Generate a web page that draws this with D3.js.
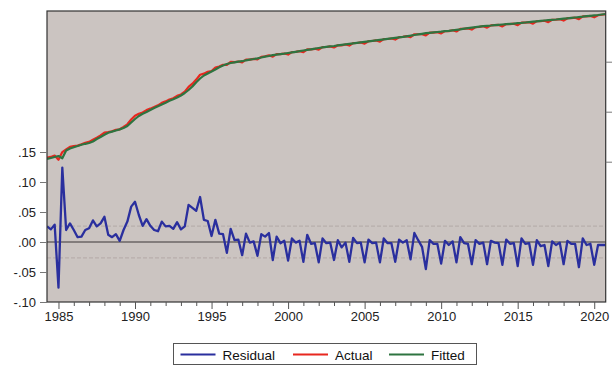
<!DOCTYPE html>
<html>
<head>
<meta charset="utf-8">
<script src="https://cdn.jsdelivr.net/npm/d3@7"></script>
<style>
  html, body { margin: 0; padding: 0; background: #ffffff; }
  svg { display: block; font-family: "Liberation Sans", Arial, sans-serif; }
</style>
</head>
<body>
<svg id="chart" width="612" height="367"></svg>
<script>
// ---- data (quarterly, 1984Q2 .. 2020Q4) ----
const startYear = 1984;
const startQuarter = 2;

const residual = [
  0.026, 0.021, 0.029, -0.076, 0.124, 0.020, 0.031, 0.020, 0.008, 0.009,
  0.020, 0.023, 0.036, 0.026, 0.031, 0.042, 0.012, 0.008, 0.013, 0.002,
  0.020, 0.034, 0.059, 0.067, 0.045, 0.027, 0.038, 0.027, 0.020, 0.018,
  0.034, 0.026, 0.027, 0.022, 0.033, 0.021, 0.026, 0.062, 0.057, 0.052,
  0.075, 0.037, 0.035, 0.010, 0.037, 0.014, 0.013, -0.018, 0.022, 0.003,
  0.004, -0.022, 0.014, -0.001, 0.001, -0.023, 0.013, 0.009, 0.015, -0.030,
  0.009, -0.002, 0.002, -0.031, 0.006, -0.001, 0.002, -0.033, 0.012, -0.003,
  -0.002, -0.034, 0.006, -0.002, -0.001, -0.030, 0.003, -0.009, -0.001, -0.033,
  0.007, -0.002, -0.001, -0.034, 0.004, -0.002, -0.001, -0.034, 0.006, -0.002,
  -0.002, -0.033, 0.004, -0.001, 0.003, -0.029, 0.015, 0.003, -0.008, -0.045,
  0.003, -0.003, -0.003, -0.036, 0.002, -0.005, 0.001, -0.034, 0.008, -0.002,
  -0.003, -0.037, 0.003, -0.003, -0.001, -0.037, 0.002, -0.001, -0.002, -0.038,
  0.004, -0.003, -0.002, -0.040, 0.006, -0.003, -0.002, -0.038, 0.003, -0.007,
  -0.005, -0.040, 0.001, -0.005, -0.001, -0.037, 0.002, -0.003, -0.003, -0.042,
  0.006, -0.005, -0.003, -0.038, -0.005, -0.005, -0.005
];

const actual = [
  10.080, 10.095, 10.123, 10.038, 10.192, 10.244, 10.295, 10.310, 10.322, 10.347,
  10.378, 10.397, 10.440, 10.480, 10.525, 10.580, 10.592, 10.610, 10.637, 10.648,
  10.694, 10.748, 10.843, 10.921, 10.959, 10.985, 11.032, 11.061, 11.094, 11.128,
  11.178, 11.206, 11.245, 11.270, 11.317, 11.345, 11.400, 11.496, 11.561, 11.642,
  11.739, 11.761, 11.799, 11.814, 11.881, 11.902, 11.937, 11.936, 11.996, 11.991,
  12.004, 11.988, 12.042, 12.041, 12.055, 12.045, 12.097, 12.109, 12.129, 12.102,
  12.151, 12.150, 12.164, 12.143, 12.192, 12.197, 12.212, 12.191, 12.248, 12.245,
  12.258, 12.240, 12.292, 12.294, 12.305, 12.284, 12.329, 12.327, 12.345, 12.323,
  12.373, 12.374, 12.385, 12.362, 12.410, 12.414, 12.425, 12.402, 12.452, 12.454,
  12.464, 12.443, 12.490, 12.495, 12.511, 12.491, 12.549, 12.549, 12.550, 12.525,
  12.581, 12.583, 12.591, 12.566, 12.614, 12.613, 12.629, 12.604, 12.656, 12.658,
  12.667, 12.643, 12.693, 12.697, 12.709, 12.681, 12.726, 12.731, 12.736, 12.706,
  12.754, 12.753, 12.760, 12.730, 12.782, 12.781, 12.790, 12.762, 12.811, 12.809,
  12.819, 12.792, 12.839, 12.839, 12.851, 12.823, 12.870, 12.873, 12.881, 12.850,
  12.906, 12.905, 12.915, 12.888, 12.929, 12.939, 12.949
];

const fitted = [
  10.054, 10.074, 10.094, 10.114, 10.068, 10.224, 10.264, 10.290, 10.314, 10.338,
  10.358, 10.374, 10.404, 10.454, 10.494, 10.538, 10.580, 10.602, 10.624, 10.646,
  10.674, 10.714, 10.784, 10.854, 10.914, 10.958, 10.994, 11.034, 11.074, 11.110,
  11.144, 11.180, 11.218, 11.248, 11.284, 11.324, 11.374, 11.434, 11.504, 11.590,
  11.664, 11.724, 11.764, 11.804, 11.844, 11.888, 11.924, 11.954, 11.974, 11.988,
  12.000, 12.010, 12.028, 12.042, 12.054, 12.068, 12.084, 12.100, 12.114, 12.132,
  12.142, 12.152, 12.162, 12.174, 12.186, 12.198, 12.210, 12.224, 12.236, 12.248,
  12.260, 12.274, 12.286, 12.296, 12.306, 12.314, 12.326, 12.336, 12.346, 12.356,
  12.366, 12.376, 12.386, 12.396, 12.406, 12.416, 12.426, 12.436, 12.446, 12.456,
  12.466, 12.476, 12.486, 12.496, 12.508, 12.520, 12.534, 12.546, 12.558, 12.570,
  12.578, 12.586, 12.594, 12.602, 12.612, 12.618, 12.628, 12.638, 12.648, 12.660,
  12.670, 12.680, 12.690, 12.700, 12.710, 12.718, 12.724, 12.732, 12.738, 12.744,
  12.750, 12.756, 12.762, 12.770, 12.776, 12.784, 12.792, 12.800, 12.808, 12.816,
  12.824, 12.832, 12.838, 12.844, 12.852, 12.860, 12.868, 12.876, 12.884, 12.892,
  12.900, 12.910, 12.918, 12.926, 12.934, 12.944, 12.954
];

const residualSD = 0.0265;
const leftTicks = [-0.10, -0.05, 0.00, 0.05, 0.10, 0.15];
const leftTickLabels = ["-.10", "-.05", ".00", ".05", ".10", ".15"];
const rightTicks = [10, 11, 12];
const yearLabels = [1985, 1990, 1995, 2000, 2005, 2010, 2015, 2020];
const seriesNames = ["Residual", "Actual", "Fitted"];
const seriesColors = ["#2a2f9e", "#e8271f", "#2e7440"];

// ---- layout ----
const svg = d3.select("#chart");
const plot = { left: 47, right: 605.7, top: 11, bottom: 302 };

const dates = residual.map((_, i) => startYear + (startQuarter - 1) / 4 + i / 4);

const x = d3.scaleLinear()
  .domain([dates[0], dates[dates.length - 1]])
  .range([plot.left, plot.right]);
const yLeft = d3.scaleLinear()
  .domain([-0.10, -0.10 + (plot.bottom - plot.top) / 600])
  .range([plot.bottom, plot.top]);
const yRight = d3.scaleLinear()
  .domain([10 - (plot.bottom - 161.7) / 50, 10 + (161.7 - plot.top) / 50])
  .range([plot.bottom, plot.top]);

// background
svg.append("rect")
  .attr("x", plot.left).attr("y", plot.top)
  .attr("width", plot.right - plot.left).attr("height", plot.bottom - plot.top)
  .attr("fill", "#cbc4c1");

svg.append("defs").append("clipPath").attr("id", "clip")
  .append("rect")
  .attr("x", plot.left).attr("y", plot.top)
  .attr("width", plot.right - plot.left).attr("height", plot.bottom - plot.top);

// SD reference lines
[residualSD, -residualSD].forEach(v => {
  svg.append("line")
    .attr("x1", plot.left).attr("x2", plot.right)
    .attr("y1", yLeft(v)).attr("y2", yLeft(v))
    .attr("stroke", "#b3a9a6").attr("stroke-width", 1)
    .attr("stroke-dasharray", "4,2");
});
// zero line
svg.append("line")
  .attr("x1", plot.left).attr("x2", plot.right)
  .attr("y1", yLeft(0)).attr("y2", yLeft(0))
  .attr("stroke", "#6b6665").attr("stroke-width", 1.4);

const g = svg.append("g").attr("clip-path", "url(#clip)");

const lineLeft = d3.line().x((d, i) => x(dates[i])).y(d => yLeft(d));
const lineRight = d3.line().x((d, i) => x(dates[i])).y(d => yRight(d));

g.append("path").datum(residual).attr("d", lineLeft)
  .attr("fill", "none").attr("stroke", seriesColors[0])
  .attr("stroke-width", 2.3).attr("stroke-linejoin", "round");
g.append("path").datum(actual).attr("d", lineRight)
  .attr("fill", "none").attr("stroke", seriesColors[1])
  .attr("stroke-width", 2.2).attr("stroke-linejoin", "round");
g.append("path").datum(fitted).attr("d", lineRight)
  .attr("fill", "none").attr("stroke", seriesColors[2])
  .attr("stroke-width", 2.2).attr("stroke-linejoin", "round");

// frame
svg.append("rect")
  .attr("x", plot.left).attr("y", plot.top)
  .attr("width", plot.right - plot.left).attr("height", plot.bottom - plot.top)
  .attr("fill", "none").attr("stroke", "#333").attr("stroke-width", 1.2);

// left axis
const leftAxis = d3.axisLeft(yLeft)
  .tickValues(leftTicks)
  .tickFormat((d, i) => leftTickLabels[i])
  .tickSize(7).tickPadding(4);
const la = svg.append("g").attr("transform", `translate(${plot.left},0)`).call(leftAxis);
la.select(".domain").remove();
la.selectAll(".tick line").attr("stroke", "#777");
la.selectAll(".tick text").attr("font-size", 13).attr("fill", "#222")
  .attr("font-family", "Liberation Sans, Arial, sans-serif");

// right axis (labels fall outside the picture)
const rightAxis = d3.axisRight(yRight).tickValues(rightTicks).tickSize(7).tickFormat("");
const ra = svg.append("g").attr("transform", `translate(${plot.right},0)`).call(rightAxis);
ra.select(".domain").remove();
ra.selectAll(".tick line").attr("stroke", "#777");

// bottom axis: minor yearly ticks, labelled every five years
const years = d3.range(1985, 2021);
const minorAxis = d3.axisBottom(x).tickValues(years.filter(y => !yearLabels.includes(y)))
  .tickSize(4).tickFormat("");
const mb = svg.append("g").attr("transform", `translate(0,${plot.bottom})`).call(minorAxis);
mb.select(".domain").remove();
mb.selectAll(".tick line").attr("stroke", "#555");

const majorAxis = d3.axisBottom(x).tickValues(yearLabels).tickSize(7).tickPadding(3)
  .tickFormat(d3.format("d"));
const bb = svg.append("g").attr("transform", `translate(0,${plot.bottom})`).call(majorAxis);
bb.select(".domain").remove();
bb.selectAll(".tick line").attr("stroke", "#555");
bb.selectAll(".tick text").attr("font-size", 13).attr("fill", "#222")
  .attr("font-family", "Liberation Sans, Arial, sans-serif");

// legend
const legend = svg.append("g");
legend.append("rect")
  .attr("x", 173.5).attr("y", 343.5).attr("width", 303).attr("height", 21)
  .attr("fill", "#fff").attr("stroke", "#555").attr("stroke-width", 1);
const legendItems = [
  { lx: 180.5, tx: 222.5 },
  { lx: 293, tx: 335 },
  { lx: 389, tx: 431 }
];
legendItems.forEach((it, i) => {
  legend.append("line")
    .attr("x1", it.lx).attr("x2", it.lx + 35)
    .attr("y1", 354.5).attr("y2", 354.5)
    .attr("stroke", seriesColors[i]).attr("stroke-width", 2);
  legend.append("text")
    .attr("x", it.tx).attr("y", 359.5)
    .attr("font-size", 13.5).attr("fill", "#111")
    .text(seriesNames[i]);
});
</script>
</body>
</html>
